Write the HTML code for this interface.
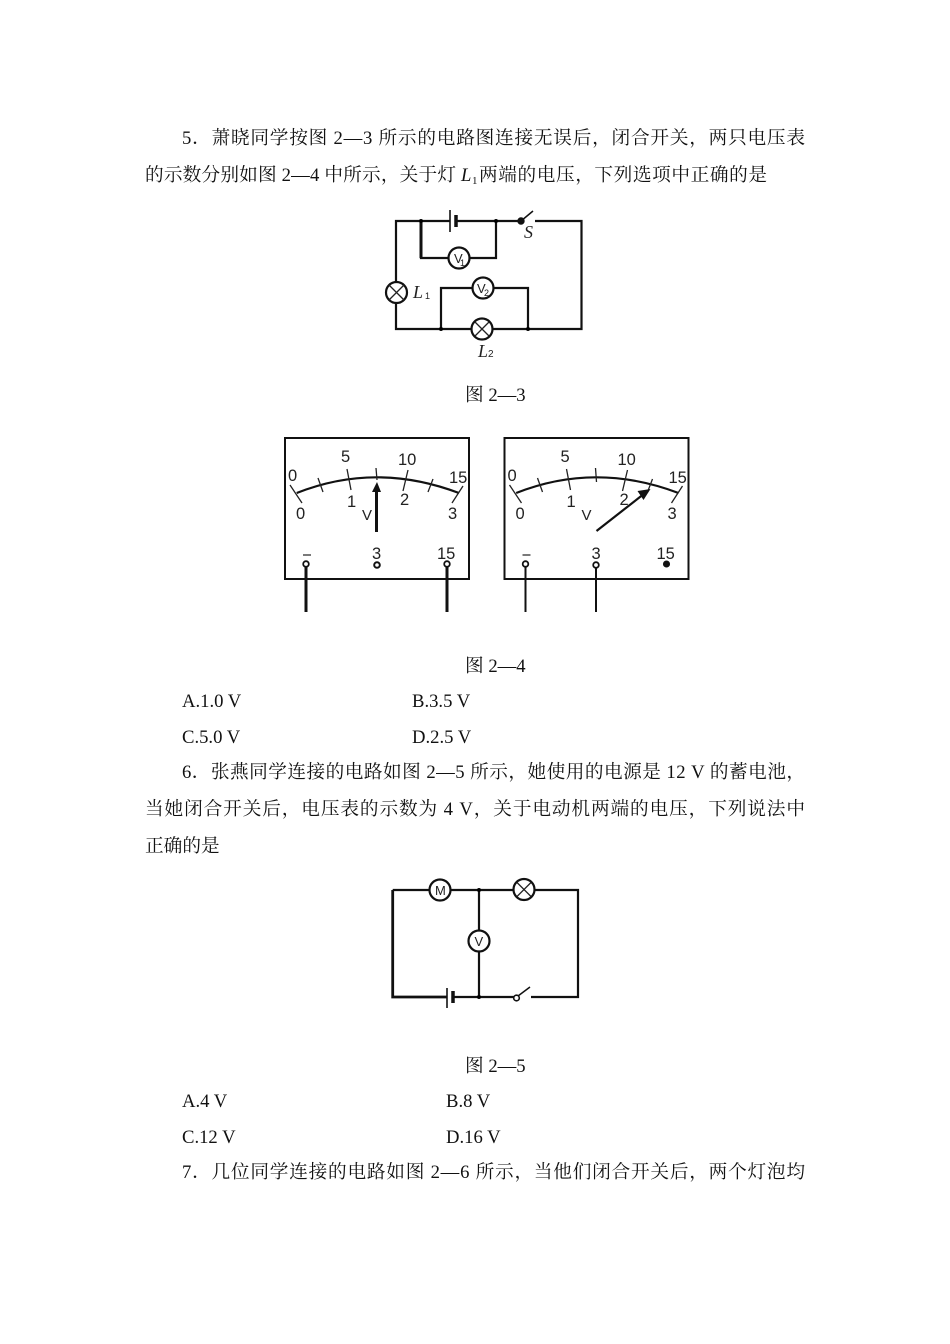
<!DOCTYPE html>
<html><head><meta charset="utf-8"><style>
html,body{margin:0;padding:0;background:#fff}
svg{display:block}
text{font-family:"Liberation Serif","Noto Serif CJK SC",serif;font-size:18.67px;fill:#111}
.m text,.c text{font-family:"Liberation Sans",sans-serif;font-size:16.5px;fill:#222}
.c text.i{font-family:"Liberation Serif",serif;font-style:italic;font-size:18px}
.w{fill:none;stroke:#111;stroke-width:2.2}
.o{fill:#fff;stroke:#111;stroke-width:2.2}
.t{stroke:#222;stroke-width:1.3;fill:none}
</style></head><body>
<svg width="950" height="1344" viewBox="0 0 950 1344" xmlns="http://www.w3.org/2000/svg">
<g transform="translate(0,0.8)">
<text x="182" y="143" textLength="623">5．萧晓同学按图 2—3 所示的电路图连接无误后，闭合开关，两只电压表</text>
<text x="145" y="180" textLength="311">的示数分别如图 2—4 中所示，关于灯</text>
<text x="461" y="180" font-style="italic">L</text><text x="472" y="183" style="font-size:11px">1</text>
<text x="479" y="180" textLength="288">两端的电压，下列选项中正确的是</text>
<text x="465" y="400">图 2—3</text>
<text x="465" y="671">图 2—4</text>
<text x="182" y="706">A.1.0 V</text><text x="412" y="706">B.3.5 V</text>
<text x="182" y="742">C.5.0 V</text><text x="412" y="742">D.2.5 V</text>
<text x="182" y="777" textLength="623">6．张燕同学连接的电路如图 2—5 所示，她使用的电源是 12 V 的蓄电池，</text>
<text x="145" y="814" textLength="660">当她闭合开关后，电压表的示数为 4 V，关于电动机两端的电压，下列说法中</text>
<text x="145" y="851">正确的是</text>
<text x="465" y="1071">图 2—5</text>
<text x="182" y="1106">A.4 V</text><text x="446" y="1106">B.8 V</text>
<text x="182" y="1142">C.12 V</text><text x="446" y="1142">D.16 V</text>
<text x="182" y="1177" textLength="623">7．几位同学连接的电路如图 2—6 所示，当他们闭合开关后，两个灯泡均</text>
</g>

<!-- Fig 2-3 -->
<g class="c">
<path class="w" d="M450 221H396V329H528M528 329H581.5V221H535M457 221H520M421 221V258H496V221M441 329V288H528V329"/>
<path d="M421 221V258" stroke="#111" stroke-width="3"/>
<path d="M450 210V232" stroke="#111" stroke-width="1.6"/>
<path d="M456 215V227" stroke="#111" stroke-width="3.5"/>
<path d="M521 221L533 211" stroke="#111" stroke-width="1.5"/>
<circle cx="521" cy="221" r="2.8" fill="#111" stroke="#111" stroke-width="1.8"/>
<circle cx="421" cy="221" r="2"/><circle cx="496" cy="221" r="2"/><circle cx="441" cy="329" r="2"/><circle cx="528" cy="329" r="2"/>
<circle class="o" cx="459" cy="258" r="10.5"/><circle class="o" cx="483" cy="288" r="10.5"/>
<circle class="o" cx="396.5" cy="292.5" r="10.5"/><circle class="o" cx="482" cy="329" r="10.5"/>
<path class="t" d="M389 285L404 300M404 285L389 300M475 322L489 336M489 322L475 336"/>
<text x="454" y="263" style="font-size:13px">V</text><text x="460" y="266" style="font-size:9px">1</text>
<text x="477" y="293" style="font-size:13px">V</text><text x="484" y="296" style="font-size:9px">2</text>
<text class="i" x="413" y="298">L</text><text x="425" y="299" style="font-size:9px">1</text>
<text class="i" x="524" y="238">S</text>
<text class="i" x="478" y="357">L</text><text x="488" y="357" style="font-size:10px">2</text>
</g>

<!-- Meters -->
<g class="m" transform="translate(275,430)">
<rect x="10" y="8" width="184" height="141" fill="none" stroke="#111" stroke-width="2"/>
<path d="M21.7 63Q101 31.6 184 63" fill="none" stroke="#111" stroke-width="2.2"/>
<path class="t" d="M15 55L27 73M72 39L76 60M43 48L48 62M101 38L102 50M133 40L128 61M158 49L153 62M188 56L177 73"/>
<text x="13" y="51">0</text><text x="66" y="32">5</text><text x="123" y="35">10</text><text x="174" y="53">15</text>
<text x="21" y="89">0</text><text x="72" y="77">1</text><text x="125" y="75">2</text><text x="173" y="89">3</text>
<text x="87" y="90" style="font-size:15px">V</text>
<path d="M101.5 102V60" stroke="#111" stroke-width="3"/><path d="M97 62L102 52L106 62Z" fill="#111"/>
<path d="M28 125H36" stroke="#222" stroke-width="1.2"/>
<text x="97" y="129">3</text><text x="162" y="129">15</text>
<path d="M31 136V182M172 136V182" stroke="#111" stroke-width="3"/>
<circle cx="31" cy="134" r="2.8" fill="#fff" stroke="#111" stroke-width="1.8"/>
<circle cx="102" cy="135" r="2.8" fill="#fff" stroke="#111" stroke-width="2"/>
<circle cx="172" cy="134" r="2.8" fill="#fff" stroke="#111" stroke-width="1.8"/>
</g>
<g class="m" transform="translate(494.5,430)">
<rect x="10" y="8" width="184" height="141" fill="none" stroke="#111" stroke-width="2"/>
<path d="M21.7 63Q101 31.6 184 63" fill="none" stroke="#111" stroke-width="2.2"/>
<path class="t" d="M15 55L27 73M72 39L76 60M43 48L48 62M101 38L102 52M133 40L128 61M158 49L153 62M188 56L177 73"/>
<text x="13" y="51">0</text><text x="66" y="32">5</text><text x="123" y="35">10</text><text x="174" y="53">15</text>
<text x="21" y="89">0</text><text x="72" y="77">1</text><text x="125" y="75">2</text><text x="173" y="89">3</text>
<text x="87" y="90" style="font-size:15px">V</text>
<path d="M102 101L148 65" stroke="#111" stroke-width="2.2"/><path d="M143 61L156 59L149 70Z" fill="#111"/>
<path d="M28 125H36" stroke="#222" stroke-width="1.2"/>
<text x="97" y="129">3</text><text x="162" y="129">15</text>
<path d="M31 136V182M101.5 136V182" stroke="#111" stroke-width="2"/>
<circle cx="31" cy="134" r="2.8" fill="#fff" stroke="#111" stroke-width="1.8"/>
<circle cx="101.5" cy="135" r="2.8" fill="#fff" stroke="#111" stroke-width="1.8"/>
<circle cx="172" cy="134" r="2.8" fill="#111" stroke="#111" stroke-width="1.5"/>
</g>

<!-- Fig 2-5 -->
<g class="c">
<path class="w" d="M392.7 890H578V997H531M479 890V997M453 997H514"/>
<path d="M447 997H392.7V890" fill="none" stroke="#111" stroke-width="2.8"/>
<path d="M447 988V1008" stroke="#111" stroke-width="1.6"/>
<path d="M453 991V1003" stroke="#111" stroke-width="3.5"/>
<path d="M518 996L530 987" stroke="#111" stroke-width="1.5"/>
<circle cx="516.5" cy="998" r="2.8" fill="#fff" stroke="#111" stroke-width="1.6"/>
<circle cx="479" cy="890" r="2"/><circle cx="479" cy="997" r="2"/>
<circle class="o" cx="440" cy="890" r="10.5"/><circle class="o" cx="524" cy="889.5" r="10.5"/><circle class="o" cx="479" cy="941" r="10.5"/>
<path class="t" d="M517 882.5L531 896.5M531 882.5L517 896.5"/>
<text x="435" y="895" style="font-size:13px">M</text>
<text x="474.5" y="946" style="font-size:13px">V</text>
</g>
</svg>
</body></html>
